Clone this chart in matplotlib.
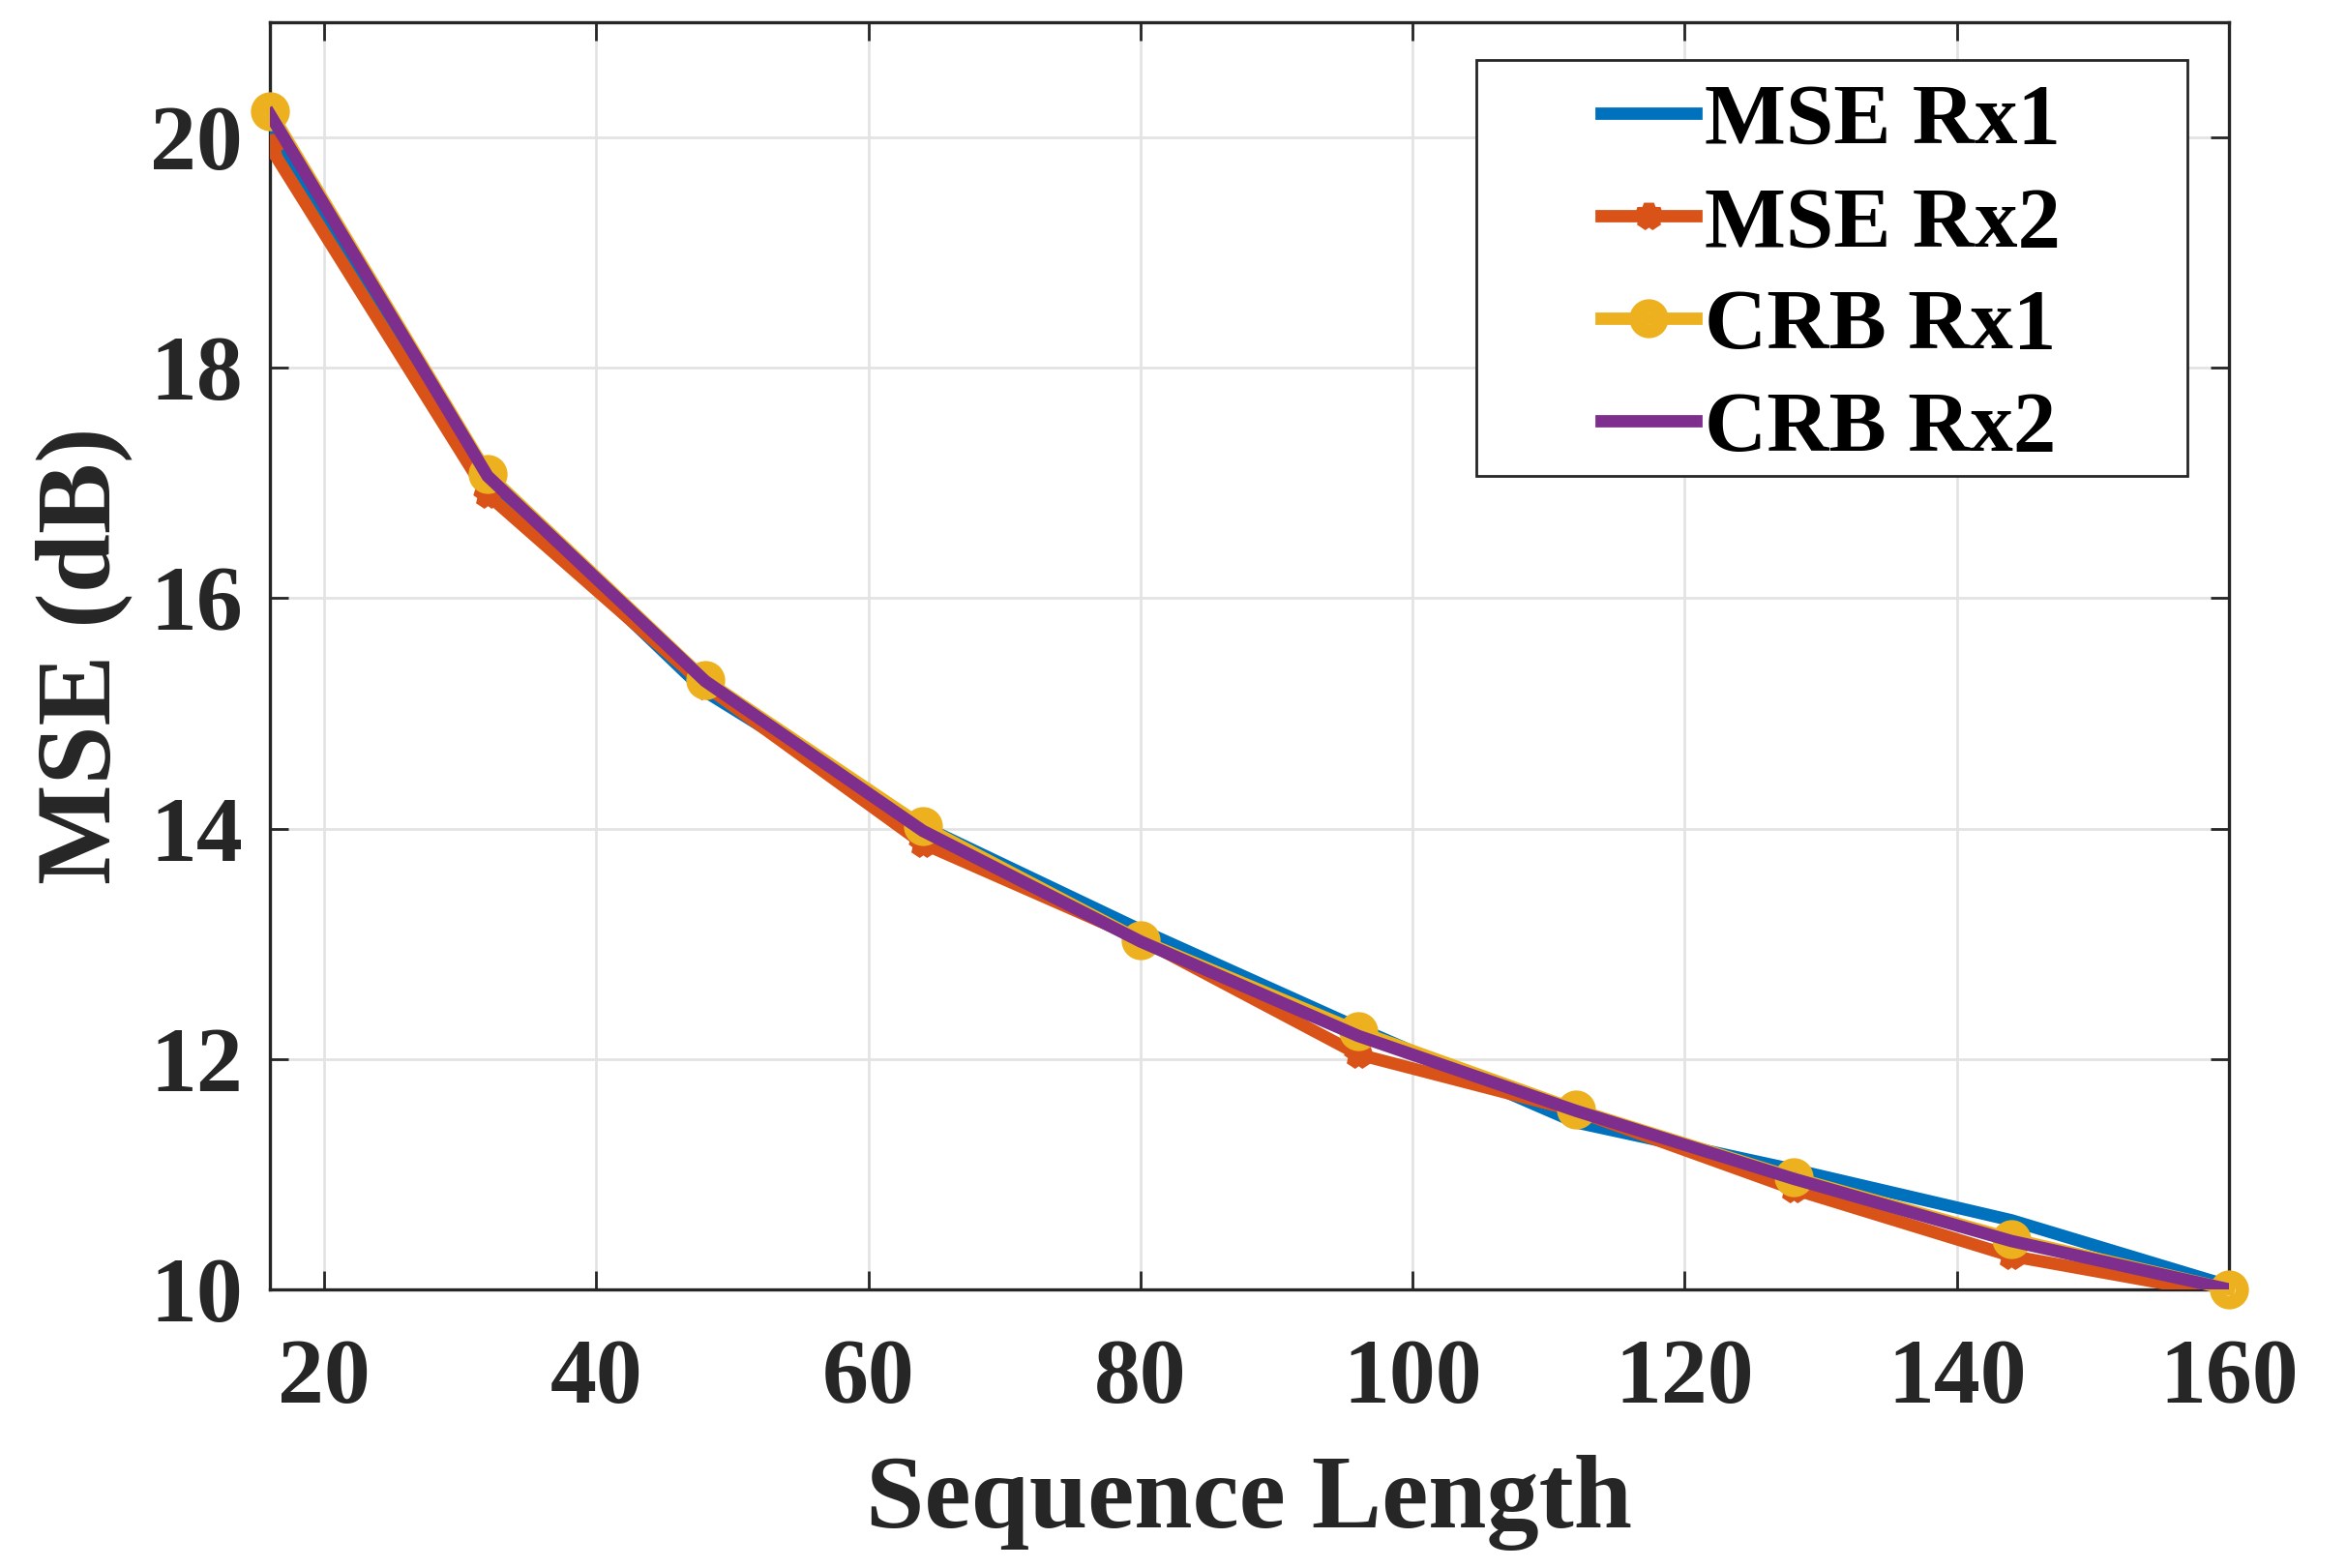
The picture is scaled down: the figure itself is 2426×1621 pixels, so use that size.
import matplotlib
matplotlib.use("Agg")
import matplotlib.pyplot as plt
from matplotlib.patches import Rectangle

# ---- data ----
seq_len = [16, 32, 48, 64, 80, 96, 112, 128, 144, 160]
mse_rx1 = [20.02, 17.00, 15.19, 14.02, 13.12, 12.27, 11.45, 11.04, 10.60, 10.03]
mse_rx2 = [19.92, 16.90, 15.24, 13.87, 13.04, 12.04, 11.55, 10.87, 10.29, 9.95]
crb_rx1 = [20.23, 17.08, 15.29, 14.02, 13.03, 12.24, 11.56, 10.97, 10.44, 10.00]
crb_rx2 = [20.20, 17.06, 15.28, 13.98, 13.02, 12.20, 11.55, 10.96, 10.42, 10.00]
labels = ["MSE Rx1", "MSE Rx2", "CRB Rx1", "CRB Rx2"]
xticks = [20, 40, 60, 80, 100, 120, 140, 160]
yticks = [10, 12, 14, 16, 18, 20]

plt.rcParams['font.family'] = ['Liberation Serif', 'DejaVu Serif']
plt.rcParams['font.weight'] = 'bold'

DPI = 200
fig = plt.figure(figsize=(2426 / DPI, 1621 / DPI), dpi=DPI)
ax = fig.add_axes([0.115, 0.1777, 0.8347, 0.8081])

txt = '#262626'
lw = 4.6
ax.plot(seq_len, mse_rx1, color='#0072BD', lw=lw, label=labels[0], zorder=3)
ax.plot(seq_len, mse_rx2, color='#D95319', lw=lw, marker='*', ms=9, mew=4.0,
        label=labels[1], zorder=3)
ax.plot(seq_len, crb_rx1, color='#EDB120', lw=lw, marker='o', ms=9.5, mew=5.0,
        mfc='none', label=labels[2], zorder=3, clip_on=False)
ax.plot(seq_len, crb_rx2, color='#7E2F8E', lw=lw, label=labels[3], zorder=3)

ax.set_xlim(16, 160)
ax.set_ylim(10, 21)
ax.set_xticks(xticks)
ax.set_yticks(yticks)
ax.grid(True, color='#e3e3e3', lw=1.0, zorder=0)
ax.set_axisbelow(True)
ax.tick_params(direction='in', length=6.8, width=1.0, colors=txt,
               top=True, right=True, labelsize=34.5)
ax.tick_params(axis='x', pad=18.5)
ax.tick_params(axis='y', pad=10)
for lab in ax.get_xticklabels() + ax.get_yticklabels():
    lab.set_fontweight('bold')
for s in ax.spines.values():
    s.set_color(txt)
    s.set_linewidth(1.2)

ax.set_xlabel("Sequence Length", fontsize=39, fontweight='bold', color=txt, labelpad=12)
ax.set_ylabel("MSE (dB)", fontsize=39.5, fontweight='bold', color=txt, labelpad=6.5)

# legend frame
ax.add_patch(Rectangle((0.616, 0.642), 0.363, 0.328, transform=ax.transAxes,
                       facecolor='white', edgecolor=txt, lw=1.0, zorder=5))
leg = ax.legend(loc='upper left', bbox_to_anchor=(0.6795, 0.952), frameon=False,
                fontsize=32, handlelength=1.1, handletextpad=0.1,
                labelspacing=0.28, borderpad=0, borderaxespad=0)
leg.set_zorder(6)
for t in leg.get_texts():
    t.set_fontweight('bold')
    t.set_color('black')

fig.savefig("out.png", dpi=DPI)
